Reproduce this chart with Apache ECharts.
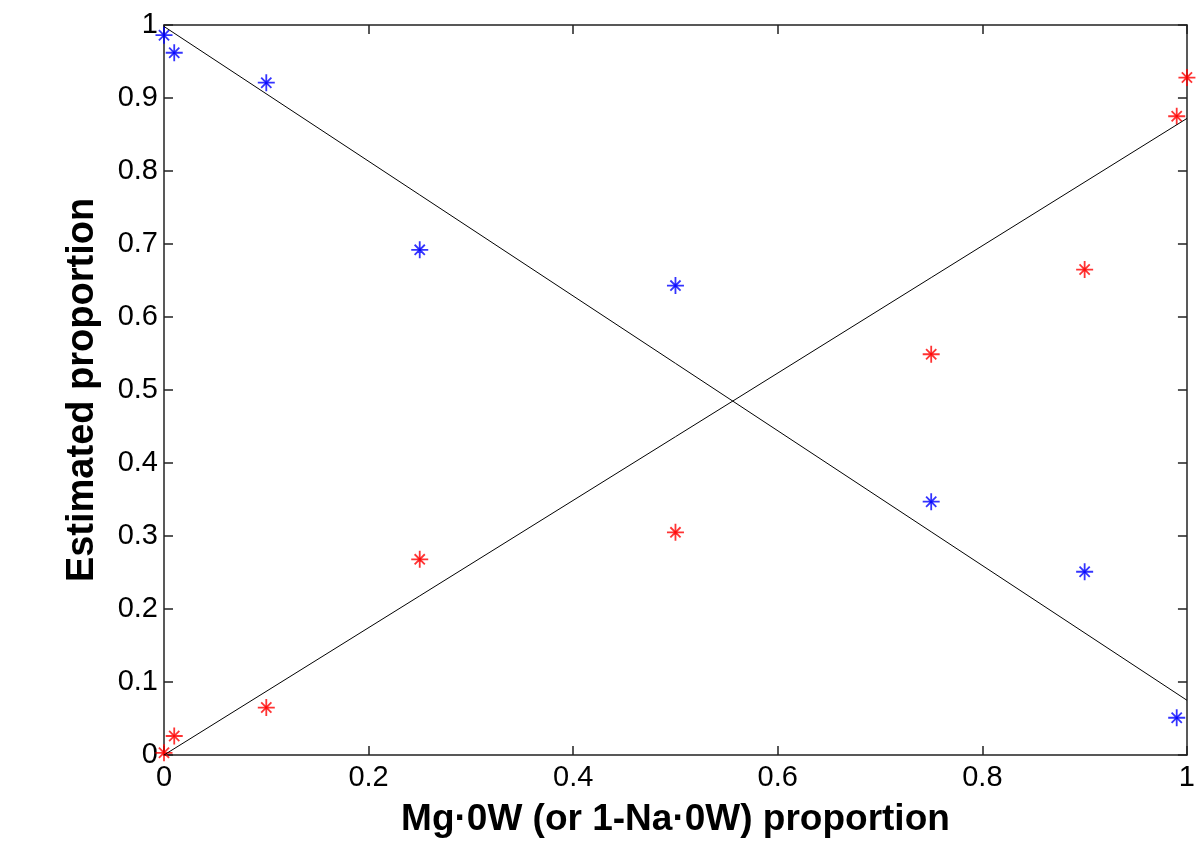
<!DOCTYPE html>
<html><head><meta charset="utf-8">
<script src="https://cdn.jsdelivr.net/npm/echarts@6/dist/echarts.min.js"></script>
<style>html,body{margin:0;padding:0;background:#fff}#c{width:1198px;height:843px}</style>
</head><body><div id="c"></div>
<script>
const xTicks = [0, 0.2, 0.4, 0.6, 0.8, 1];
const yTicks = [0, 0.1, 0.2, 0.3, 0.4, 0.5, 0.6, 0.7, 0.8, 0.9, 1];
const blueX = [0, 0.01, 0.1, 0.25, 0.5, 0.75, 0.9, 0.99];
const blueY = [0.986, 0.962, 0.921, 0.692, 0.643, 0.347, 0.251, 0.051];
const redX = [0, 0.01, 0.1, 0.25, 0.5, 0.75, 0.9, 0.99, 1.0];
const redY = [0.003, 0.026, 0.065, 0.268, 0.305, 0.549, 0.665, 0.875, 0.928];
const fitDownX = [0, 1];
const fitDownY = [0.998, 0.075];
const fitUpX = [0, 1];
const fitUpY = [0, 0.872];

const star = 'path://M0,-10L0,10M-10,0L10,0M-6,-6L6,6M-6,6L6,-6M-1.5,-1.5L1.5,-1.5L1.5,1.5L-1.5,1.5Z';
const font = 'Liberation Sans, Arial, Helvetica, sans-serif';
const pairs = (xs, ys) => xs.map((x, i) => [x, ys[i]]);

const chart = echarts.init(document.getElementById('c'), null, {renderer: 'canvas'});
const axisCommon = {
  min: 0, max: 1,
  axisLine: {show: true, onZero: false, lineStyle: {color: '#222', width: 1.5}},
  axisTick: {show: true, inside: true, length: 9, lineStyle: {color: '#222', width: 1.5}},
  splitLine: {show: false}
};
chart.setOption({
  animation: false,
  backgroundColor: '#fff',
  grid: {left: 164, right: 5, top: 25, bottom: 84, containLabel: false},
  xAxis: [
    Object.assign({}, axisCommon, {
      type: 'value', position: 'bottom', interval: 0.2,
      name: 'Mg·0W (or 1-Na·0W) proportion', nameLocation: 'middle', nameGap: 46,
      nameTextStyle: {fontFamily: font, fontSize: 37, fontWeight: 'bold', color: '#000'},
      axisLabel: {fontFamily: font, fontSize: 29, color: '#000', margin: 8,
        formatter: v => xTicks.includes(+v.toFixed(1)) ? String(+v.toFixed(1)) : ''}
    }),
    Object.assign({}, axisCommon, {
      type: 'value', position: 'top', interval: 0.2, axisLabel: {show: false}
    })
  ],
  yAxis: [
    Object.assign({}, axisCommon, {
      type: 'value', position: 'left', interval: 0.1,
      name: 'Estimated proportion', nameLocation: 'middle', nameGap: 62, nameRotate: 90,
      nameTextStyle: {fontFamily: font, fontSize: 38, fontWeight: 'bold', color: '#000'},
      axisLabel: {fontFamily: font, fontSize: 29, color: '#000', margin: 6,
        formatter: v => { const r = +v.toFixed(1); return yTicks.includes(r) ? String(r) : ''; }}
    }),
    Object.assign({}, axisCommon, {
      type: 'value', position: 'right', interval: 0.1, axisLabel: {show: false}
    })
  ],
  series: [
    {type: 'line', data: pairs(fitDownX, fitDownY), symbol: 'none', silent: true,
     lineStyle: {color: '#000', width: 1}},
    {type: 'line', data: pairs(fitUpX, fitUpY), symbol: 'none', silent: true,
     lineStyle: {color: '#000', width: 1}},
    {type: 'scatter', data: pairs(blueX, blueY), symbol: star, symbolSize: 17,
     itemStyle: {color: '#0000ff', borderColor: '#0000ff', borderWidth: 1.8}},
    {type: 'scatter', data: pairs(redX, redY), symbol: star, symbolSize: 17,
     itemStyle: {color: '#ff0000', borderColor: '#ff0000', borderWidth: 1.8}}
  ]
});
</script></body></html>
